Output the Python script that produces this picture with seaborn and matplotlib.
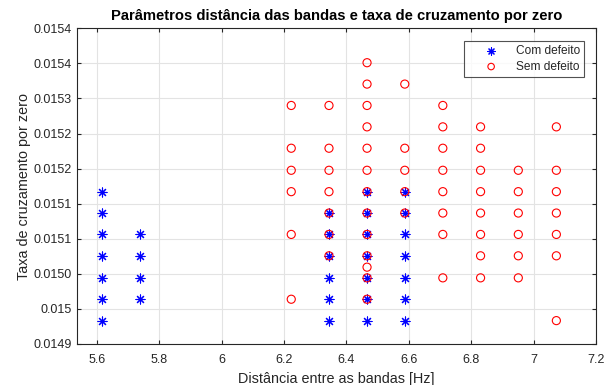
import matplotlib
matplotlib.use("Agg")
import matplotlib.pyplot as plt
import seaborn as sns
import pandas as pd

# ---- data ----
com_x = [5.616, 5.616, 5.616, 5.616, 5.616, 5.616, 5.616,
         5.737, 5.737, 5.737, 5.737,
         6.344, 6.344, 6.344, 6.344, 6.344, 6.344,
         6.466, 6.466, 6.466, 6.466, 6.466, 6.466, 6.466,
         6.587, 6.587, 6.587, 6.587, 6.587, 6.587, 6.587]
com_y = [0.014967, 0.014999, 0.015031, 0.015064, 0.015096, 0.015128, 0.015160,
         0.014999, 0.015031, 0.015064, 0.015096,
         0.014967, 0.014999, 0.015031, 0.015064, 0.015096, 0.015128,
         0.014967, 0.014999, 0.015031, 0.015064, 0.015096, 0.015128, 0.015160,
         0.014967, 0.014999, 0.015031, 0.015064, 0.015096, 0.015128, 0.015160]

sem_x = [6.223, 6.223, 6.223, 6.223, 6.223, 6.223,
         6.344, 6.344, 6.344, 6.344, 6.344, 6.344, 6.344,
         6.466, 6.466, 6.466, 6.466, 6.466, 6.466, 6.466, 6.466, 6.466, 6.466,
         6.466, 6.466, 6.466,
         6.587, 6.587, 6.587, 6.587, 6.587,
         6.709, 6.709, 6.709, 6.709, 6.709, 6.709, 6.709, 6.709,
         6.830, 6.830, 6.830, 6.830, 6.830, 6.830, 6.830, 6.830,
         6.951, 6.951, 6.951, 6.951, 6.951, 6.951,
         7.073, 7.073, 7.073, 7.073, 7.073, 7.073, 7.073]
sem_y = [0.014999, 0.015096, 0.015160, 0.015192, 0.015225, 0.015289,
         0.015064, 0.015096, 0.015128, 0.015160, 0.015192, 0.015225, 0.015289,
         0.014999, 0.015031, 0.015064, 0.015096, 0.015128, 0.015160, 0.015192,
         0.015225, 0.015257, 0.015289, 0.015321, 0.015353, 0.015047,
         0.015128, 0.015160, 0.015192, 0.015225, 0.015321,
         0.015031, 0.015096, 0.015128, 0.015160, 0.015192, 0.015225, 0.015257, 0.015289,
         0.015031, 0.015064, 0.015096, 0.015128, 0.015160, 0.015192, 0.015225, 0.015257,
         0.015031, 0.015064, 0.015096, 0.015128, 0.015160, 0.015192,
         0.014967, 0.015064, 0.015096, 0.015128, 0.015160, 0.015192, 0.015257]

x_ticks = [5.6, 5.8, 6.0, 6.2, 6.4, 6.6, 6.8, 7.0, 7.2]
x_ticklabels = ["5.6", "5.8", "6", "6.2", "6.4", "6.6", "6.8", "7", "7.2"]
y_ticks = [0.014932, 0.0149845, 0.015037, 0.0150895, 0.015142,
           0.0151945, 0.015247, 0.0152995, 0.015352, 0.0154045]
y_ticklabels = ["0.0149", "0.015", "0.0150", "0.0151", "0.0151",
                "0.0152", "0.0152", "0.0153", "0.0154", "0.0154"]

title = "Parâmetros distância das bandas e taxa de cruzamento por zero"
xlabel = "Distância entre as bandas [Hz]"
ylabel = "Taxa de cruzamento por zero"
labels = ["Com defeito", "Sem defeito"]

df_com = pd.DataFrame({"x": com_x, "y": com_y})
df_sem = pd.DataFrame({"x": sem_x, "y": sem_y})

sns.set_theme(style="white")
plt.rcParams["font.family"] = ["Liberation Sans", "DejaVu Sans"]

fig = plt.figure(figsize=(6.1, 3.85), dpi=100)
ax = fig.add_axes([0.1267, 0.1065, 0.977 - 0.1267, 0.9265 - 0.1065])

sns.scatterplot(data=df_com, x="x", y="y", marker=(8, 2, 0), s=42,
                color="blue", linewidth=0.8, label=labels[0], ax=ax, zorder=3)
c1 = ax.collections[-1]
c1.set_edgecolor("blue")
c1.set_facecolor("blue")
c1.set_linewidth(0.8)

sns.scatterplot(data=df_sem, x="x", y="y", marker="o", s=34,
                color="red", linewidth=0.8, label=labels[1], ax=ax, zorder=4)
c2 = ax.collections[-1]
c2.set_facecolor("none")
c2.set_edgecolor("red")
c2.set_linewidth(0.8)

ax.set_xlim(5.537, 7.2)
ax.set_ylim(y_ticks[0], y_ticks[-1])
ax.set_xticks(x_ticks)
ax.set_xticklabels(x_ticklabels)
ax.set_yticks(y_ticks)
ax.set_yticklabels(y_ticklabels)

ax.grid(True, color="#e3e3e3", linewidth=0.8)
ax.set_axisbelow(True)
for sp in ax.spines.values():
    sp.set_visible(True)
    sp.set_color("#262626")
    sp.set_linewidth(0.8)
ax.tick_params(direction="in", length=3, width=0.8, color="#262626",
               labelsize=9, labelcolor="#262626",
               top=True, right=True, bottom=True, left=True)
ax.tick_params(axis="x", pad=7.5)
ax.tick_params(axis="y", pad=4)

ax.set_xlabel(xlabel, fontsize=10.4, color="#262626", labelpad=4)
ax.set_ylabel(ylabel, fontsize=10.4, color="#262626", labelpad=1.5)
ax.set_title(title, fontsize=10.6, fontweight="bold", color="black", pad=6)

leg = ax.legend(loc="upper right", bbox_to_anchor=(0.977, 0.960),
                fontsize=8.6, frameon=True, fancybox=False,
                edgecolor="#262626", borderpad=0.35, handletextpad=0.1,
                labelspacing=0.3, borderaxespad=0.0, handlelength=3.9,
                markerscale=0.8)
leg.get_frame().set_linewidth(0.8)

fig.savefig("out.png", dpi=100)
